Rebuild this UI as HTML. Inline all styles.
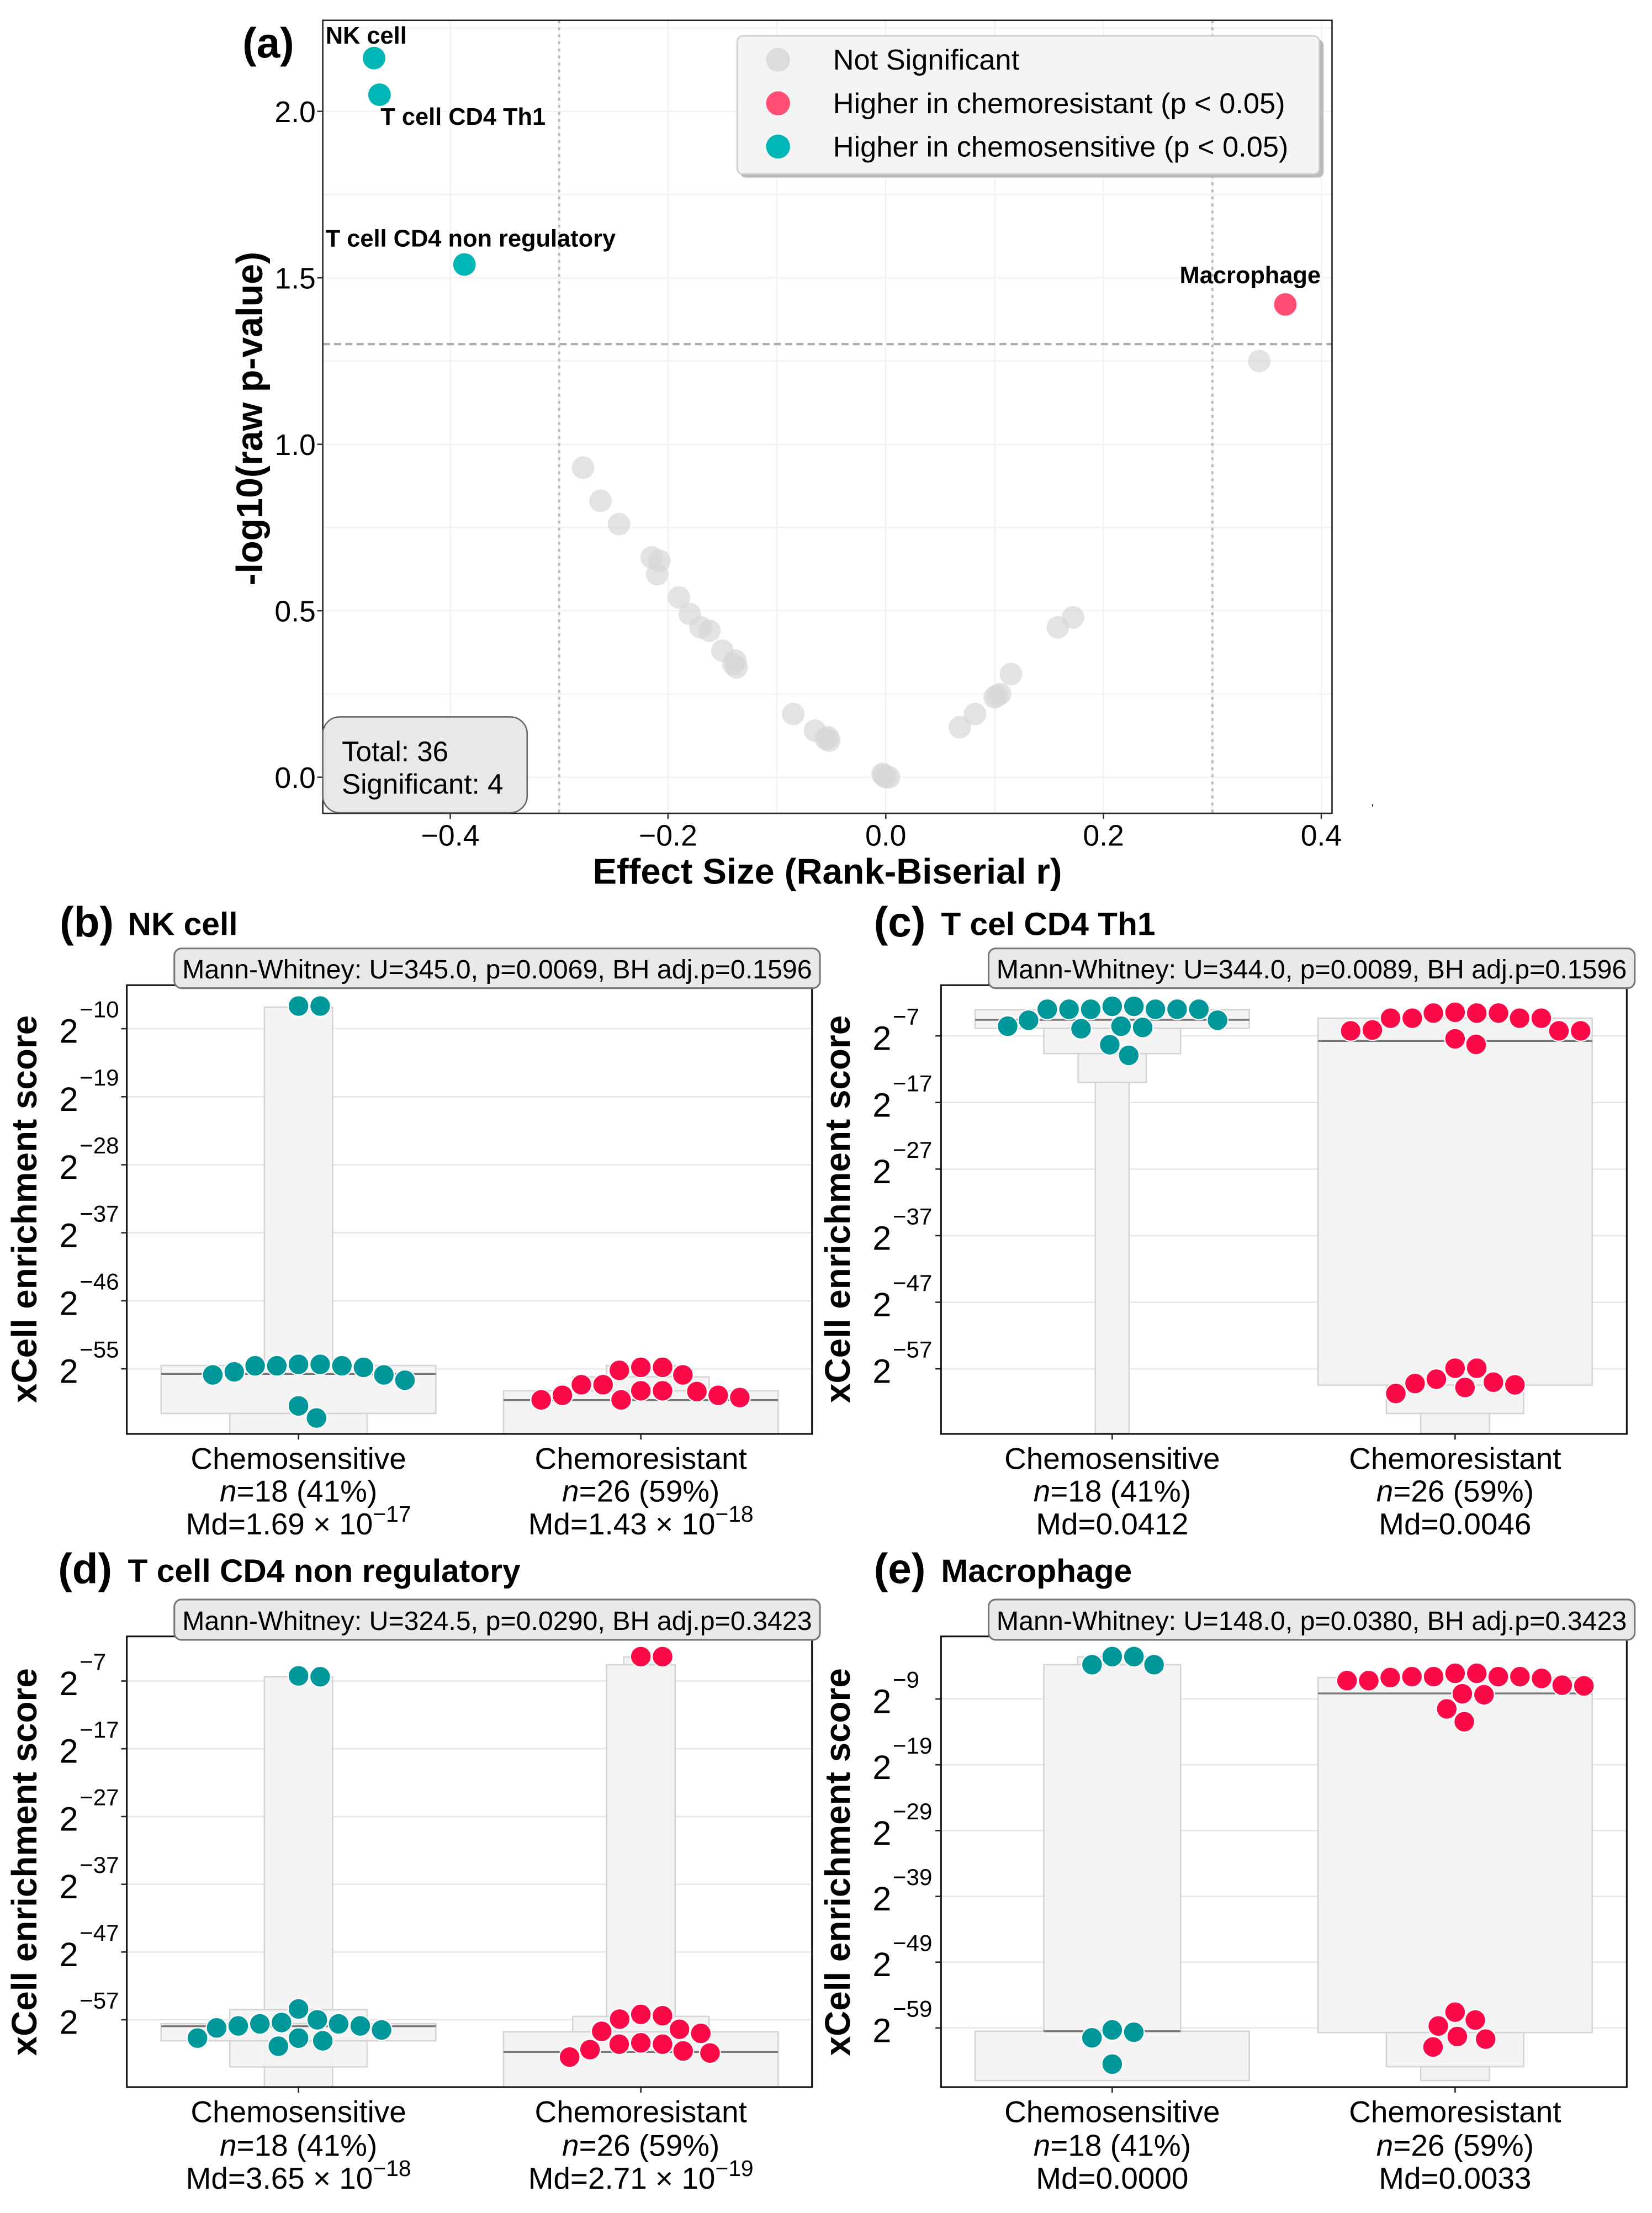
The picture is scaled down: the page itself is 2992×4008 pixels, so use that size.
<!DOCTYPE html>
<html><head><meta charset="utf-8">
<style>
html,body{margin:0;padding:0;background:#fff;}
svg{display:block;}
text{font-family:"Liberation Sans",sans-serif;fill:#000;}
</style></head>
<body>
<svg id="fig" width="2992" height="4008" viewBox="0 0 1172 1570" preserveAspectRatio="none" xmlns="http://www.w3.org/2000/svg">
<rect x="0" y="0" width="1172" height="1570" fill="#fff"/>
</svg>
<script>
// ---------- Panel (a) data ----------
const effectSize = [-0.470,-0.465,-0.387,0.367,0.343,-0.278,-0.262,-0.245,-0.215,-0.208,-0.210,-0.190,-0.180,-0.170,-0.162,-0.150,-0.140,-0.137,-0.085,-0.065,-0.055,-0.052,-0.003,0.000,0.003,0.068,0.082,0.100,0.105,0.115,0.158,0.172,-0.053,-0.002,0.102,-0.138];
const negLog10P = [2.16,2.05,1.54,1.42,1.25,0.93,0.83,0.76,0.66,0.65,0.61,0.54,0.49,0.45,0.44,0.38,0.34,0.33,0.19,0.14,0.115,0.11,0.01,0.0,0.0,0.15,0.19,0.24,0.25,0.31,0.45,0.48,0.12,0.005,0.245,0.35];
const pointStatus = ['sens','sens','sens','res','ns','ns','ns','ns','ns','ns','ns','ns','ns','ns','ns','ns','ns','ns','ns','ns','ns','ns','ns','ns','ns','ns','ns','ns','ns','ns','ns','ns','ns','ns','ns','ns'];
const pointLabels = ['NK cell','T cell CD4 Th1','T cell CD4 non regulatory','Macrophage'];
const xTicksA = [-0.4,-0.2,0.0,0.2,0.4];
const yTicksA = [0.0,0.5,1.0,1.5,2.0];

// ---------- Panels (b)-(e) data: log2 enrichment scores ----------
const bSens = [-7.0,-7.0,-54.4,-54.6,-55.4,-55.8,-56.5,-55.8,-54.8,-54.6,-54.6,-54.4,-59.9,-61.5];
const bRes  = [-57.9,-58.0,-58.5,-59.1,-59.1,-58.8,-58.5,-57.9,-57.1,-57.1,-55.2,-55.8,-54.8,-54.8];
const bTicks = [-10,-19,-28,-37,-46,-55];
const cSens = [-3.0,-3.0,-4.65,-2.56,-5.54,-3.0,-5.92,-3.0,-5.73,-2.56,-5.54,-4.65,-3.0,-3.0,-8.33,-9.92];
const cRes  = [-3.58,-4.34,-6.24,-4.34,-7.44,-4.34,-8.27,-6.24,-3.58,-6.24,-3.58,-6.11,-4.34,-3.45,-56.9,-56.9,-59.0,-59.8,-60.7,-59.4,-59.2,-58.55];
const cTicks = [-7,-17,-27,-37,-47,-57];
const dSens = [-6.24,-6.37,-57.0,-57.6,-57.9,-58.5,-60.1,-57.9,-60.9,-55.4,-59.7,-59.7,-58.2,-57.6,-57.4];
const dRes  = [-3.4,-3.4,-56.9,-56.2,-56.4,-58.7,-59.0,-58.4,-60.6,-60.6,-61.9,-62.5,-61.6,-61.4,-60.4];
const dTicks = [-7,-17,-27,-37,-47,-57];
const eSens = [-2.55,-3.78,-3.78,-2.55,-59.65,-60.5,-59.3,-64.5];
const eRes  = [-5.09,-5.6,-5.6,-5.87,-6.9,-7.0,-8.35,-5.6,-8.2,-6.2,-6.2,-5.74,-5.6,-5.09,-10.5,-12.45,-57.8,-56.6,-58.7,-60.7,-60.3,-61.9];
const eTicks = [-9,-19,-29,-39,-49,-59];
// letter-value box edges (log2) and medians
const bBoxSens = [[-7.15,-54.55],[-54.55,-60.9],[-60.9,-63.6]]; const bMed = [-55.67,-59.13];
const bBoxRes  = [[-57.9,-63.6],[-56.06,-57.9],[-54.55,-56.06]];
const cBoxSens = [[-3.07,-5.86],[-5.86,-9.66],[-9.66,-13.98],[-13.98,-66.7]]; const cMed = [-4.59,-7.76];
const cBoxRes  = [[-3.2,-4.34],[-4.34,-59.44],[-59.44,-63.7],[-63.7,-66.7]];
const dBoxSens = [[-6.37,-66.9],[-55.5,-63.96],[-57.57,-60.1]]; const dMed = [-57.95,-61.75];
const dBoxRes  = [[-3.46,-4.6],[-4.6,-56.5],[-56.5,-58.77],[-58.77,-66.9]];
const eBoxSens = [[-2.6,-3.78],[-3.78,-59.5],[-59.5,-67.0]]; const eMed = [-59.5,-8.15];
const eBoxRes  = [[-5.28,-5.74],[-5.74,-59.7],[-59.7,-64.9],[-64.9,-67.0]];

const NS='http://www.w3.org/2000/svg';
const svg=document.getElementById('fig');
function mk(tag,attrs,parent){const e=document.createElementNS(NS,tag);for(const k in attrs)e.setAttribute(k,attrs[k]);(parent||svg).appendChild(e);return e;}
function txt(s,attrs,parent){const e=mk('text',attrs,parent);e.textContent=s;return e;}

// ================= Panel (a) =================
(function(){
  const L=229,R=945,T=14.4,B=577;
  const xA=v=>628.4+772.4*v;
  const yA=v=>551.4-236.2*v;
  const g=mk('g',{});
  
  
  mk('rect',{x:L,y:T,width:R-L,height:B-T,fill:'#fff'},g);
  xTicksA.concat([-0.3,-0.1,0.1,0.3]).forEach(v=>{mk('line',{x1:xA(v),x2:xA(v),y1:T,y2:B,stroke:'#f2f2f2','stroke-width':1},g);});
  [0,0.25,0.5,0.75,1,1.25,1.5,1.75,2,2.25].forEach(v=>{mk('line',{x1:L,x2:R,y1:yA(v),y2:yA(v),stroke:'#f2f2f2','stroke-width':1},g);});
  [-0.3,0.3].forEach(v=>{const l=mk('line',{x1:xA(v),x2:xA(v),y1:T,y2:B,stroke:'#bbb','stroke-width':1.6,'stroke-dasharray':'2,3'},g);});
  const hl=mk('line',{x1:L,x2:R,y1:yA(-Math.log10(0.05)),y2:yA(-Math.log10(0.05)),stroke:'#aaa','stroke-width':1.6,'stroke-dasharray':'5,3'},g);
  
  const col={ns:'rgba(215,215,215,0.7)',sens:'#00b5b5',res:'#ff4d73'};
  effectSize.forEach((v,i)=>{
    const c=mk('circle',{cx:xA(v),cy:yA(negLog10P[i]),r:8,fill:col[pointStatus[i]]},g);
    
    
  });
  mk('rect',{x:L,y:T,width:R-L,height:B-T,fill:'none',stroke:'#222','stroke-width':1},g);
  const lab=[[231,31,'start'],[270,88.5,'start'],[231,175,'start'],[937,201,'end']];
  pointLabels.forEach((s,i)=>{const t=txt(s,{x:lab[i][0],y:lab[i][1],'font-size':17,'font-weight':'bold','text-anchor':lab[i][2]},g);});
  xTicksA.forEach(v=>{mk('line',{x1:xA(v),x2:xA(v),y1:B,y2:B+4,stroke:'#333'},g);const t=txt((v<0?'\u2212':'')+Math.abs(v).toFixed(1),{x:xA(v),y:600,'font-size':21,'text-anchor':'middle'},g);});
  yTicksA.forEach(v=>{mk('line',{x1:L-4,x2:L,y1:yA(v),y2:yA(v),stroke:'#333'},g);const t=txt(v.toFixed(1),{x:224,y:yA(v)+7.5,'font-size':21,'text-anchor':'end'},g);});
  const xt=txt('Effect Size (Rank-Biserial r)',{x:587,y:627,'font-size':25.5,'font-weight':'bold','text-anchor':'middle'},g);
  
  const yt=txt('-log10(raw p-value)',{x:0,y:0,'font-size':26,'font-weight':'bold','text-anchor':'middle',transform:'translate(186,297) rotate(-90)'},g);
  
  const pl=txt('(a)',{x:172,y:41,'font-size':30,'font-weight':'bold'},g);
  
  mk('text',{x:973,y:576,'font-size':8,fill:'#555'},g).textContent="'";
  const lg=mk('g',{},g);
  
  mk('rect',{x:525,y:28,width:414,height:98,rx:4,fill:'#bbb'},lg);
  mk('rect',{x:523,y:25.5,width:413,height:98,rx:4,fill:'#f4f4f4',stroke:'#ccc'},lg);
  [['Not Significant','#dcdcdc',42.4],['Higher in chemoresistant (p < 0.05)','#ff4d73',73.3],['Higher in chemosensitive (p < 0.05)','#00b5b5',104]].forEach(e=>{
    const it=mk('g',{},lg);
    
    mk('circle',{cx:552,cy:e[2],r:8.5,fill:e[1]},it);
    txt(e[0],{x:591,y:e[2]+7,'font-size':20.5},it);
  });
  const sb=mk('g',{},g);
  
  mk('rect',{x:229,y:508.6,width:145,height:68,rx:12,fill:'#e8e8e8',stroke:'#666'},sb);
  txt('Total: 36',{x:242.5,y:540,'font-size':20},sb);
  txt('Significant: 4',{x:242.5,y:563,'font-size':20},sb);
})();

// ================= Panels (b)-(e) =================
function swarm(vals,yf,r){
  const idx=vals.map((v,i)=>i).sort((a,b)=>vals[b]-vals[a]);
  const placed=[];const xs=new Array(vals.length);
  idx.forEach(i=>{
    const y=yf(vals[i]);const d=2*r+0.6;
    let cands=[0];
    placed.forEach(p=>{const dy=Math.abs(p.y-y);if(dy<d){const dx=Math.sqrt(d*d-dy*dy);cands.push(p.x+dx,p.x-dx);}});
    cands.sort((a,b)=>Math.abs(a)-Math.abs(b));
    let best=0;
    for(const c of cands){if(placed.every(p=>Math.hypot(p.x-c,p.y-y)>=d-0.01)){best=c;break;}}
    placed.push({x:best,y:y});xs[i]=best;
  });
  return xs;
}
function panel(cfg){
  const X=z=>cfg.ox+z/cfg.sx, Y=z=>cfg.oy+z/cfg.sy;
  const t0=cfg.ticks[0], tN=cfg.ticks[cfg.ticks.length-1];
  const unit=(Y(cfg.tickZ[1])-Y(cfg.tickZ[0]))/(t0-tN);
  const yv=e=>Y(cfg.tickZ[0])+(t0-e)*unit;
  const L=X(cfg.box[0]),T=Y(cfg.box[1]),R=X(cfg.box[2]),B=Y(cfg.box[3]);
  const g=mk('g',{});
  
  
  cfg.ticks.forEach(tk=>{mk('line',{x1:L,x2:R,y1:yv(tk),y2:yv(tk),stroke:'#e6e6e6','stroke-width':1},g);});
  [[cfg.boxSens,cfg.bwSens,cfg.cats[0],'#f4f2f2'],[cfg.boxRes,cfg.bwRes,cfg.cats[1],'#f2f2f2']].forEach((grp,gi)=>{
    grp[0].forEach((bx,k)=>{
      const hw=grp[1][k]/2;
      const yt=Math.max(yv(bx[0]),T), yb=Math.min(yv(bx[1]),B);
      const r=mk('rect',{x:X(grp[2]-hw),y:yt,width:(hw*2)/cfg.sx,height:yb-yt,fill:grp[3],'fill-opacity':0.9,stroke:'#d4d4d4','stroke-width':1},g);
      
      
    });
    const mw=grp[1][cfg.medIdx[gi]]/2;
    const m=mk('line',{x1:X(grp[2]-mw),x2:X(grp[2]+mw),y1:yv(cfg.med[gi]),y2:yv(cfg.med[gi]),stroke:'#777','stroke-width':1.3},g);
    
  });
  [[cfg.sens,cfg.cats[0],'#00979b'],[cfg.res,cfg.cats[1],'#fa0b47']].forEach(grp=>{
    const xs=swarm(grp[0],yv,7.4);
    grp[0].forEach((v,i)=>{
      const c=mk('circle',{cx:X(grp[1])+xs[i],cy:yv(v),r:7.4,fill:grp[2],stroke:'#fff','stroke-width':0.9},g);
      
      
    });
  });
  mk('rect',{x:L,y:T,width:R-L,height:B-T,fill:'none',stroke:'#111','stroke-width':1.2},g);
  cfg.ticks.forEach(tk=>{
    mk('line',{x1:L-4,x2:L,y1:yv(tk),y2:yv(tk),stroke:'#222'},g);
    const t=mk('text',{x:X(cfg.twoX),y:yv(tk)+10,'font-size':24,'text-anchor':'end'},g);
    
    t.textContent='2';
    const s=mk('text',{x:X(cfg.twoX)+1,y:yv(tk)-8,'font-size':16.5},g);
    s.textContent='\u2212'+Math.abs(tk);
  });
  cfg.cats.forEach((cx,i)=>{
    mk('line',{x1:X(cx),x2:X(cx),y1:B,y2:B+4,stroke:'#222'},g);
    const lg=mk('g',{},g);
    
    txt(cfg.catNames[i],{x:X(cx),y:Y(cfg.labY[0]),'font-size':21.5,'text-anchor':'middle'},lg);
    const n=mk('text',{x:X(cx),y:Y(cfg.labY[1]),'font-size':21.5,'text-anchor':'middle'},lg);
    const it=mk('tspan',{'font-style':'italic'},n);it.textContent='n';
    const rest=mk('tspan',{},n);rest.textContent=cfg.nText[i];
    const md=mk('text',{x:X(cx),y:Y(cfg.labY[2]),'font-size':21.5,'text-anchor':'middle'},lg);
    const a=mk('tspan',{},md);a.textContent=cfg.md[i][0];
    if(cfg.md[i][1]){const sp=mk('tspan',{dy:-9,'font-size':16},md);sp.textContent=cfg.md[i][1];}
  });
  const pl=txt(cfg.letter,{x:X(cfg.letterX),y:Y(cfg.titleY),'font-size':30,'font-weight':'bold'},g);
  
  const tt=txt(cfg.title,{x:X(cfg.titleX),y:Y(cfg.titleY)-1,'font-size':23,'font-weight':'bold'},g);
  
  const sb=mk('g',{},g);
  
  const s=cfg.stats;
  mk('rect',{x:X(s[0]),y:Y(s[1]),width:(s[2]-s[0])/cfg.sx,height:(s[3]-s[1])/cfg.sy,rx:5,fill:'#e9e9e9',stroke:'#777','stroke-width':1.2},sb);
  txt(cfg.statText,{x:X(s[0]+15),y:Y(s[3])-7,'font-size':19,textLength:(s[2]-s[0]-30)/cfg.sx,lengthAdjust:'spacingAndGlyphs'},sb);
  const yt=txt('xCell enrichment score',{x:0,y:0,'font-size':25,'font-weight':'bold','text-anchor':'middle',transform:'translate('+(X(cfg.yTitleX)+9)+','+(Y(cfg.yTitleY))+') rotate(-90)'},g);
  
}
const catNames=['Chemosensitive','Chemoresistant'];
const nText=['=18 (41%)','=26 (59%)'];
panel({id:'b',letter:'(b)',title:'NK cell',ox:0,oy:627,sx:2.668,sy:3.336,box:[240,240,1537,1302],tickZ:[343,1148],ticks:bTicks,cats:[565,1213],
  sens:bSens,res:bRes,boxSens:bBoxSens,bwSens:[129,520,260],boxRes:bBoxRes,bwRes:[520,258,130],med:bMed,medIdx:[1,0],
  twoX:148,labY:[1385,1462,1540],catNames:catNames,nText:nText,md:[['Md=1.69 \u00d7 10','\u221217'],['Md=1.43 \u00d7 10','\u221218']],
  letterX:113,titleX:242,titleY:125,stats:[330,153,1552,247],statText:'Mann-Whitney: U=345.0, p=0.0069, BH adj.p=0.1596',yTitleX:45,yTitleY:770});
panel({id:'c',letter:'(c)',title:'T cel CD4 Th1',ox:584.4,oy:627,sx:2.668,sy:3.336,box:[222,240,1520,1302],tickZ:[360,1148],ticks:cTicks,cats:[546,1195],
  sens:cSens,res:cRes,boxSens:cBoxSens,bwSens:[519,259,129,64],boxRes:cBoxRes,bwRes:[66,519,260,130],med:cMed,medIdx:[0,1],
  twoX:128,labY:[1385,1462,1540],catNames:catNames,nText:nText,md:[['Md=0.0412',''],['Md=0.0046','']],
  letterX:95,titleX:222,titleY:125,stats:[312,153,1535,247],statText:'Mann-Whitney: U=344.0, p=0.0089, BH adj.p=0.1596',yTitleX:25,yTitleY:770});
panel({id:'d',letter:'(d)',title:'T cell CD4 non regulatory',ox:0,oy:1092.8,sx:2.668,sy:3.287,box:[240,224,1537,1275],tickZ:[328,1118],ticks:dTicks,cats:[565,1213],
  sens:dSens,res:dRes,boxSens:dBoxSens,bwSens:[129,260,520],boxRes:dBoxRes,bwRes:[65,130,258,520],med:dMed,medIdx:[2,3],
  twoX:148,labY:[1357,1435,1512],catNames:catNames,nText:nText,md:[['Md=3.65 \u00d7 10','\u221218'],['Md=2.71 \u00d7 10','\u221219']],
  letterX:110,titleX:242,titleY:100,stats:[330,138,1552,232],statText:'Mann-Whitney: U=324.5, p=0.0290, BH adj.p=0.3423',yTitleX:45,yTitleY:750});
panel({id:'e',letter:'(e)',title:'Macrophage',ox:584.4,oy:1092.8,sx:2.668,sy:3.287,box:[222,224,1520,1275],tickZ:[370,1137],ticks:eTicks,cats:[546,1195],
  sens:eSens,res:eRes,boxSens:eBoxSens,bwSens:[131,259,519],boxRes:eBoxRes,bwRes:[130,519,260,130],med:eMed,medIdx:[1,1],
  twoX:128,labY:[1357,1435,1512],catNames:catNames,nText:nText,md:[['Md=0.0000',''],['Md=0.0033','']],
  letterX:95,titleX:222,titleY:100,stats:[312,138,1535,232],statText:'Mann-Whitney: U=148.0, p=0.0380, BH adj.p=0.3423',yTitleX:25,yTitleY:750});
</script>
</body></html>
